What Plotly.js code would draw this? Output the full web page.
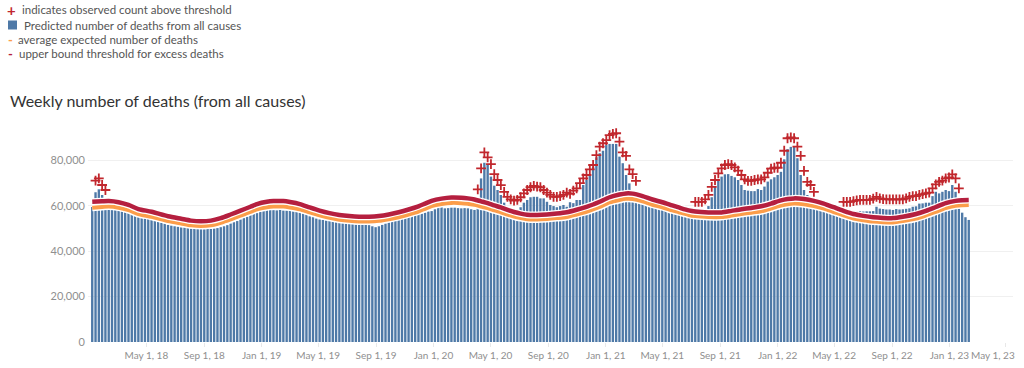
<!DOCTYPE html>
<html>
<head>
<meta charset="utf-8">
<script src="https://cdn.plot.ly/plotly-3.0.1.min.js"></script>
<style>
  html, body { margin: 0; padding: 0; background: #ffffff; }
  #chart { width: 1024px; height: 368px; }
</style>
</head>
<body>
<div id="chart"></div>
<script>
// ---------- DATA ----------
// First week ending date of the series (weekly data)
const firstWeekEnding = '2018-01-06';

// Predicted weekly number of deaths from all causes (one value per week)
const predictedDeaths = [
  59500, 66000, 67300, 64800, 61500, 59600, 59300, 58800, 58300, 57600,
  57200, 56800, 56400, 56000, 55600, 55200, 54900, 54600, 54400, 54000,
  53800, 52600, 52200, 51600, 51300, 51000, 50800, 50500, 50500, 50300,
  50000, 49900, 49800, 49800, 49700, 49900, 49800, 50000, 50200, 50600,
  51000, 51500, 52200, 52800, 53300, 54000, 54600, 55200, 55900, 56400,
  56800, 57300, 58000, 58300, 58200, 58100, 58000, 58200, 57900, 57900,
  57800, 57600, 57300, 57000, 56600, 56200, 55400, 55000, 54400, 54000,
  53800, 53600, 53400, 53200, 53000, 52600, 52400, 52300, 52200, 52000,
  51800, 51700, 51600, 51700, 51500, 51000, 50600, 51000, 51600, 52200,
  52800, 53200, 53600, 54000, 54400, 54800, 55200, 55800, 56200, 56600,
  56600, 57000, 57500, 57700, 58500, 60100, 59500, 58900, 59000, 59200,
  59200, 59000, 58900, 59000, 58900, 58500, 58200, 61100, 72100, 79000,
  78300, 72900, 68900, 67000, 64800, 61400, 59400, 58500, 58200, 58200,
  59400, 61400, 62600, 63800, 64000, 64000, 63300, 63300, 61800, 60400,
  59900, 59400, 59900, 60400, 59600, 61600, 61200, 62600, 62600, 69200,
  71400, 73200, 77300, 81400, 83200, 84300, 86800, 87300, 87300, 87300,
  81700, 78800, 73600, 69900, 66200, 63300, 61800, 61500, 61200, 61000,
  60600, 60400, 60000, 59800, 59500, 59000, 58900, 58500, 58000, 57600,
  57000, 56800, 56400, 56200, 56300, 56500, 57000, 59900, 63800, 68800,
  71700, 72900, 73900, 74000, 73200, 72600, 71400, 69200, 67000, 66700,
  66500, 66500, 67400, 67000, 68500, 70700, 71700, 72600, 73600, 75000,
  80500, 85000, 86000, 86300, 81000, 73600, 67000, 64800, 63300, 62000,
  61500, 61000, 60400, 60000, 59500, 59000, 58500, 58000, 57300, 57200,
  57300, 57500, 57400, 57600, 57500, 57600, 57600, 57700, 59600, 58800,
  58600, 58400, 58400, 58200, 58600, 58400, 58500, 58700, 58900, 59600,
  59800, 61000, 61100, 61400, 61400, 64300, 66200, 65500, 66200, 67000,
  66500, 69200, 66200, 61000, 57000, 55000, 53800
];

// Weeks (index into the weekly series) at which the two reference lines were read
const lineWeeks = [
  0, 3, 5, 8, 11, 14, 18, 23, 27, 30, 33, 36, 39, 42, 45, 48, 50, 53, 55, 58,
  60, 63, 66, 69, 72, 75, 78, 81, 84, 87, 90, 93, 96, 99, 101, 103, 106, 109, 112, 114,
  116, 118, 120, 122, 124, 126, 128, 130, 132, 135, 138, 141, 144, 147, 150, 152, 154, 157, 160, 162,
  164, 167, 170, 173, 176, 178, 181, 183, 187, 191, 194, 197, 200, 203, 206, 209, 211, 213, 216, 219,
  222, 225, 228, 231, 234, 237, 240, 243, 246, 250, 253, 256, 259, 262, 264, 266
];
// Upper bound threshold for excess deaths
const upperThreshold = [
  61800, 62000, 62100, 61600, 60400, 58600, 57400, 55400, 54300, 53500, 53200, 53500, 54600, 56200, 57900, 59600, 60800, 61800, 62100, 62100,
  61700, 60800, 59300, 57900, 56800, 56000, 55500, 55200, 55200, 55500, 56200, 57200, 58400, 59800, 61000, 62200, 63200, 63700, 63600, 63300,
  62800, 62000, 61200, 60200, 59300, 58200, 57300, 56600, 56100, 56000, 56200, 56600, 57200, 58300, 59600, 60600, 61800, 63800, 65000, 65500,
  65400, 64300, 62800, 61600, 60200, 59300, 58000, 57500, 57100, 57100, 57800, 58500, 59100, 59800, 61000, 62400, 63000, 63300, 63000, 62200,
  61000, 59400, 57800, 56400, 55600, 55000, 54700, 54600, 55200, 56400, 57800, 59500, 61200, 62200, 62500, 62600
];
// Average expected number of deaths
const averageExpected = [
  59200, 59500, 59700, 59200, 58100, 56400, 55200, 53300, 52200, 51400, 51100, 51400, 52500, 54000, 55700, 57300, 58500, 59400, 59700, 59700,
  59300, 58500, 57100, 55800, 54700, 53900, 53400, 53100, 53100, 53400, 54100, 55000, 56200, 57500, 58700, 59900, 60800, 61300, 61200, 60900,
  60500, 59700, 59000, 58000, 57200, 56200, 55300, 54600, 54100, 54000, 54200, 54600, 55100, 56200, 57400, 58400, 59500, 61500, 62600, 63100,
  63000, 62000, 60500, 59400, 58000, 57200, 56000, 55500, 55100, 55100, 55700, 56400, 57000, 57600, 58800, 60100, 60700, 61000, 60700, 59900,
  58800, 57300, 55800, 54400, 53700, 53100, 52800, 52700, 53300, 54400, 55800, 57400, 59000, 60000, 60300, 60400
];

// Runs of weeks where the observed count is above the threshold [firstWeek, lastWeek]
const aboveThresholdRuns = [[1, 4], [117, 165], [183, 219], [228, 263]];
// Observed counts for those weeks, in order
const observedAbove = [
  71100, 72100, 69200, 67000,
  67300, 76500, 83600, 81400, 78400, 74000, 71400, 69100, 66200, 64000,
  62900, 62300, 62600, 63800, 65500, 67000, 68200, 68800, 68500, 68200,
  67000, 65800, 64800, 64000, 64000, 64300, 64800, 65800, 65300, 66700,
  67700, 70000, 72100, 73600, 76100, 78000, 82400, 86100, 87600, 89000,
  91200, 91700, 92000, 88300, 83600, 82000, 76100, 74000, 71000,
  61800, 61800, 61800, 62900, 64800, 68400, 71400, 74300, 76500, 78000,
  78400, 78000, 77000, 75500, 73600, 71700, 71000, 71000, 71400, 71700,
  71700, 72600, 74600, 76400, 76800, 76800, 79000, 84300, 89800, 90200,
  89800, 86100, 82000, 75400, 70600, 69200, 66200,
  61800, 61800, 61800, 62100, 62400, 62600, 62600, 62600, 62600, 63200,
  64000, 63300, 63000, 62900, 62900, 62900, 62900, 62900, 62900, 63300,
  64000, 64300, 64300, 64800, 65200, 65500, 65800, 67700, 69500, 70600,
  71100, 72100, 72500, 73900, 72100, 67700
];

// Axis ticks
const xTickDates = ['2018-05-01','2018-09-01','2019-01-01','2019-05-01','2019-09-01','2020-01-01','2020-05-01',
  '2020-09-01','2021-01-01','2021-05-01','2021-09-01','2022-01-01','2022-05-01','2022-09-01','2023-01-01','2023-05-01'];
const xTickLabels = ['May 1, 18','Sep 1, 18','Jan 1, 19','May 1, 19','Sep 1, 19','Jan 1, 20','May 1, 20',
  'Sep 1, 20','Jan 1, 21','May 1, 21','Sep 1, 21','Jan 1, 22','May 1, 22','Sep 1, 22','Jan 1, 23','May 1, 23'];
const yTickValues = [0, 20000, 40000, 60000, 80000];

const chartTitle = 'Weekly number of deaths (from all causes)';
const legendLabels = [
  'indicates observed count above threshold',
  'Predicted number of deaths from all causes',
  'average expected number of deaths',
  'upper bound threshold for excess deaths'
];

// ---------- BUILD ----------
const DAY = 86400000;
const t0 = Date.parse(firstWeekEnding + 'T00:00:00Z');
const weekDate = k => new Date(t0 + 7 * k * DAY).toISOString().slice(0, 10);
const weekX = predictedDeaths.map((_, k) => weekDate(k));
const lineX = lineWeeks.map(weekDate);
const plusX = [];
aboveThresholdRuns.forEach(([a, b]) => { for (let k = a; k <= b; k++) plusX.push(weekDate(k)); });

const COLORS = {
  bar: '#4e79a7',
  expected: '#fc9d4a',
  threshold: '#b51f3f',
  plus: '#c1272d',
  text: '#555555',
  tick: '#8f8f8f'
};
const FONT = 'Lato, "Open Sans", sans-serif';
const TICK_FONT = { family: FONT, size: 10, color: COLORS.tick };

const traces = [
  {
    type: 'bar', x: weekX, y: predictedDeaths,
    width: 7 * DAY * 0.72,
    marker: { color: COLORS.bar, line: { width: 0 } },
    hoverinfo: 'x+y', showlegend: false
  },
  { type: 'scatter', mode: 'lines', x: lineX, y: averageExpected,
    line: { color: '#ffffff', width: 7, shape: 'spline', smoothing: 0.7 }, hoverinfo: 'skip', showlegend: false },
  { type: 'scatter', mode: 'lines', x: lineX, y: averageExpected,
    line: { color: COLORS.expected, width: 4, shape: 'spline', smoothing: 0.7 }, showlegend: false },
  { type: 'scatter', mode: 'lines', x: lineX, y: upperThreshold,
    line: { color: '#ffffff', width: 7, shape: 'spline', smoothing: 0.7 }, hoverinfo: 'skip', showlegend: false },
  { type: 'scatter', mode: 'lines', x: lineX, y: upperThreshold,
    line: { color: COLORS.threshold, width: 4.5, shape: 'spline', smoothing: 0.7 }, showlegend: false },
  { type: 'scatter', mode: 'markers', x: plusX, y: observedAbove,
    marker: { symbol: 'cross-thin', size: 7, line: { width: 1.8, color: COLORS.plus } }, showlegend: false }
];

// Plot area in pixels: left 88, right 1013, top 125, bottom 342
const L = 88, R = 1013, T = 125, B = 342;
const px2x = p => (p - L) / (R - L);
const py2y = p => (B - p) / (B - T);

const legendRows = [
  { sym: '+', color: COLORS.plus, symSize: 15, symX: 11, textX: 19.5, y: 10 },
  { sym: null, color: COLORS.bar, symX: 12.5, textX: 22, y: 25 },
  { sym: '-', color: COLORS.expected, symSize: 13, symX: 10.5, textX: 15.5, y: 39.5 },
  { sym: '-', color: COLORS.threshold, symSize: 13, symX: 10.5, textX: 17, y: 53.5 }
];
const annotations = [];
const shapes = [];
legendRows.forEach((r, i) => {
  if (r.sym) {
    annotations.push({
      xref: 'paper', yref: 'paper', x: px2x(r.symX), y: py2y(r.y),
      xanchor: 'center', yanchor: 'middle', showarrow: false,
      text: '<b>' + r.sym + '</b>', font: { family: FONT, size: r.symSize, color: r.color }
    });
  } else {
    shapes.push({
      type: 'rect', xref: 'paper', yref: 'paper',
      x0: px2x(r.symX - 4.5), x1: px2x(r.symX + 4.5),
      y0: py2y(r.y + 4.5), y1: py2y(r.y - 4.5),
      fillcolor: r.color, line: { width: 0 }
    });
  }
  annotations.push({
    xref: 'paper', yref: 'paper', x: px2x(r.textX), y: py2y(r.y),
    xanchor: 'left', yanchor: 'middle', showarrow: false,
    text: legendLabels[i], font: { family: FONT, size: 11.5, color: COLORS.text }
  });
});
// last x tick label is pushed inside the plot edge
annotations.push({
  xref: 'paper', yref: 'paper', x: px2x(1016), y: py2y(355), xanchor: 'right', yanchor: 'middle',
  showarrow: false, text: xTickLabels[xTickLabels.length - 1],
  font: TICK_FONT, borderpad: 0
});
const shownTickText = xTickLabels.map((t, i) => i === xTickLabels.length - 1 ? '' : t);

const layout = {
  width: 1024, height: 368,
  margin: { l: L, r: 1024 - R, t: T, b: 368 - B, pad: 0 },
  paper_bgcolor: '#ffffff', plot_bgcolor: '#ffffff',
  bargap: 0.28,
  showlegend: false,
  title: {
    text: chartTitle, xref: 'container', yref: 'container',
    x: 10 / 1024, xanchor: 'left', y: 1 - 101 / 368, yanchor: 'middle',
    font: { family: FONT, size: 16, color: '#333333' }
  },
  xaxis: {
    type: 'date', range: ['2017-12-28', '2023-05-16'],
    tickmode: 'array', tickvals: xTickDates, ticktext: shownTickText,
    showgrid: false, zeroline: false, showline: false,
    ticks: 'outside', ticklen: 4, tickcolor: '#e8e8e8', tickwidth: 1,
    tickfont: TICK_FONT
  },
  yaxis: {
    range: [0, 95640],
    tickmode: 'array', tickvals: yTickValues, tickformat: ',d',
    showgrid: true, gridcolor: '#f0f0f0', gridwidth: 1, zeroline: false, showline: false,
    ticks: '', ticklabelstandoff: 2,
    tickfont: { family: FONT, size: 11, color: COLORS.tick }
  },
  annotations: annotations,
  shapes: shapes,
  hovermode: 'closest'
};

Plotly.newPlot('chart', traces, layout, { staticPlot: true, displayModeBar: false });
</script>
</body>
</html>
